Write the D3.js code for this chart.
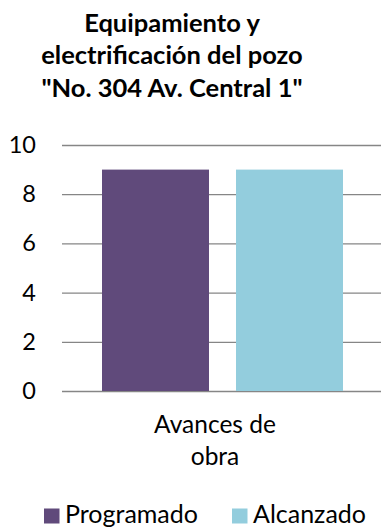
<!DOCTYPE html>
<html><head><meta charset="utf-8">
<script src="https://cdn.jsdelivr.net/npm/d3@7"></script>
<style>html,body{margin:0;padding:0;background:#fff;}svg{display:block;font-family:Lato,"Open Sans",sans-serif;}</style>
</head><body><svg id="c" width="381" height="528"></svg>
<script>
const titleLines = ["Equipamiento y", "electrificación del pozo", "\"No. 304 Av. Central 1\""];
const categories = ["Avances de obra"];
const categoryLines = ["Avances de", "obra"];
const seriesNames = ["Programado", "Alcanzado"];
const seriesColors = ["#604a7b", "#93cddd"];
const programado = [9];
const alcanzado = [9];
const yTicks = [0, 2, 4, 6, 8, 10];

const svg = d3.select("#c");
const m = {left: 62, right: 383, top: 145, bottom: 391};

const x0 = d3.scaleBand().domain(categories).range([m.left, m.right]).paddingInner(0).paddingOuter(0.166);
const x1 = d3.scaleBand().domain(seriesNames).range([0, x0.bandwidth()]).paddingInner(0.2015).paddingOuter(0);
const y = d3.scaleLinear().domain([0, 10]).range([m.bottom, m.top]);

// title
svg.append("g").selectAll("text").data(titleLines).join("text")
  .attr("x", 172).attr("y", (d,i)=>32 + i*32.3)
  .attr("text-anchor","middle").attr("font-weight","bold").attr("font-size", 25.5).attr("fill","#000")
  .text(d=>d);

// grid
const yAxis = d3.axisLeft(y).tickValues(yTicks).tickSize(-(m.right - m.left)).tickPadding(26);
const ga = svg.append("g").attr("transform", `translate(${m.left},0)`).call(yAxis);
ga.select(".domain").remove();
ga.selectAll(".tick line").attr("stroke","#868686").attr("stroke-width",1.3);
ga.selectAll(".tick text").attr("font-size",23.5).attr("fill","#000").attr("font-family","Lato,sans-serif");

// bars
const data = categories.map((c,i)=>({cat:c, vals:[{s:seriesNames[0], v:programado[i]},{s:seriesNames[1], v:alcanzado[i]}]}));
svg.append("g").selectAll("g").data(data).join("g")
  .attr("transform", d=>`translate(${x0(d.cat)},0)`)
  .selectAll("rect").data(d=>d.vals).join("rect")
  .attr("x", d=>x1(d.s)).attr("width", x1.bandwidth())
  .attr("y", d=>y(d.v)).attr("height", d=>y(0)-y(d.v))
  .attr("fill", (d,i)=>seriesColors[i]);

// category label
svg.append("g").selectAll("text").data(categoryLines).join("text")
  .attr("x", 215).attr("y",(d,i)=>433 + i*32)
  .attr("text-anchor","middle").attr("font-size",24.5).attr("fill","#000").text(d=>d);

// legend
const legendX = [44, 232];
const lg = svg.append("g").selectAll("g").data(seriesNames).join("g")
  .attr("transform",(d,i)=>`translate(${legendX[i]},508.5)`);
lg.append("rect").attr("width",15.5).attr("height",15).attr("fill",(d,i)=>seriesColors[i]);
lg.append("text").attr("x",21).attr("y",14.5).attr("font-size",25).attr("fill","#000").text(d=>d);
</script></body></html>
